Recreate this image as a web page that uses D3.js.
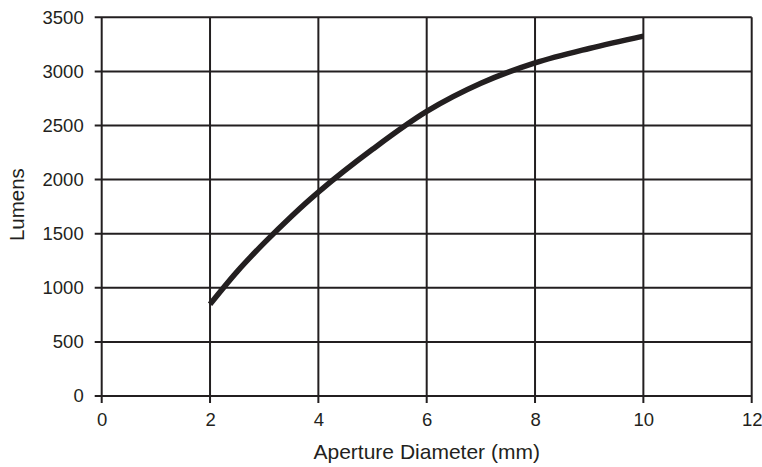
<!DOCTYPE html>
<html>
<head>
<meta charset="utf-8">
<script src="https://cdn.jsdelivr.net/npm/d3@7"></script>
<style>
  html, body { margin: 0; padding: 0; background: #fff; }
  svg { display: block; }
  text { font-family: "Liberation Sans", Arial, Helvetica, sans-serif; fill: #231f20; }
</style>
</head>
<body>
<svg id="chart" width="762" height="467"></svg>
<script>
const apertureMm = [2, 2.5, 3, 3.5, 4, 5, 6, 7, 8, 9, 10];
const lumens = [848, 1150, 1415, 1660, 1885, 2280, 2630, 2890, 3078, 3212, 3326];
const xTicks = [0, 2, 4, 6, 8, 10, 12];
const yTicks = [0, 500, 1000, 1500, 2000, 2500, 3000, 3500];
const xTitle = "Aperture Diameter (mm)";
const yTitle = "Lumens";

const ink = "#231f20";
const svg = d3.select("#chart");
const m = { left: 101.7, top: 17.3, right: 751.7, bottom: 396 };

const x = d3.scaleLinear().domain([0, 12]).range([m.left, m.right]);
const y = d3.scaleLinear().domain([0, 3500]).range([m.bottom, m.top]);

// Grid
const g = svg.append("g");
g.selectAll("line.v").data(xTicks).join("line")
  .attr("x1", d => x(d)).attr("x2", d => x(d))
  .attr("y1", m.top).attr("y2", m.bottom + 7)
  .attr("stroke", ink).attr("stroke-width", 2);
g.selectAll("line.h").data(yTicks).join("line")
  .attr("x1", m.left - 7).attr("x2", m.right)
  .attr("y1", d => y(d)).attr("y2", d => y(d))
  .attr("stroke", ink).attr("stroke-width", 2);

const fmt = d3.format("d");
const xAxis = svg.append("g").attr("transform", `translate(0,${m.bottom})`)
  .call(d3.axisBottom(x).tickValues(xTicks).tickFormat(fmt).tickSize(0).tickPadding(17));
xAxis.select(".domain").remove();
xAxis.selectAll("text").style("font-size", "18.5px").style("font-family", "'Liberation Sans', Arial, sans-serif").style("fill", ink);

const yAxis = svg.append("g").attr("transform", `translate(${m.left},0)`)
  .call(d3.axisLeft(y).tickValues(yTicks).tickFormat(fmt).tickSize(0).tickPadding(18));
yAxis.select(".domain").remove();
yAxis.selectAll("text").style("font-size", "18.5px").style("font-family", "'Liberation Sans', Arial, sans-serif").style("fill", ink);

// Curve
const line = d3.line().x(d => x(d[0])).y(d => y(d[1])).curve(d3.curveCatmullRom.alpha(0.5));
svg.append("path")
  .datum(apertureMm.map((d, i) => [d, lumens[i]]))
  .attr("d", line)
  .attr("fill", "none").attr("stroke", ink).attr("stroke-width", 5.5);

// Titles
svg.append("text")
  .attr("x", (m.left + m.right) / 2).attr("y", 459)
  .attr("text-anchor", "middle").style("font-size", "21px")
  .text(xTitle);
svg.append("text")
  .attr("transform", `translate(24,${(m.top + m.bottom) / 2 - 2}) rotate(-90)`)
  .attr("text-anchor", "middle").style("font-size", "20.5px")
  .text(yTitle);
</script>
</body>
</html>
